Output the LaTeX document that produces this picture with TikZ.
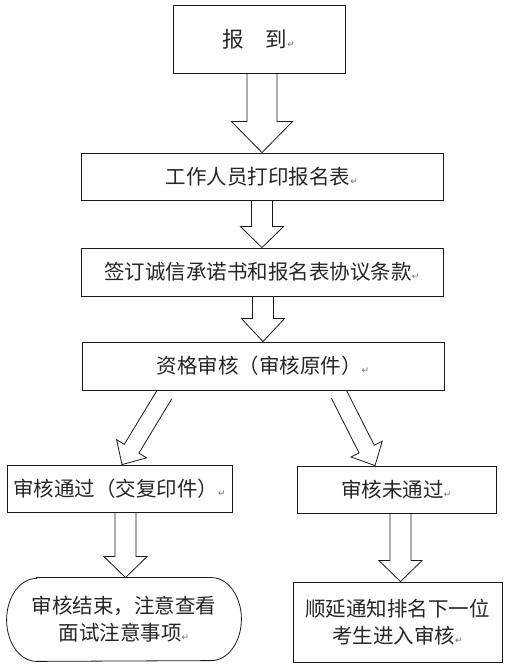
\documentclass[tikz,border=0pt]{standalone}
\usepackage{fontspec}
\usepackage{xcolor}
\usepackage{tikz}
\usetikzlibrary{positioning, calc}
\newfontfamily\cjk{Noto Sans CJK SC}
\newfontfamily\symfont{DejaVu Sans}
\definecolor{linegray}{RGB}{25,25,25}
\definecolor{markgray}{RGB}{110,110,110}
\newcommand{\pmark}{{\symfont\fontsize{9}{9}\selectfont\textcolor{markgray}{↵}}}
% hollow block arrow: start, end, shaft half width, head half width, head length
\newcommand{\fatarrow}[5]{%
  \coordinate (fa-h) at ($(#2)!#5!(#1)$);
  \draw[outline] ($(#1)!#3!90:(#2)$) -- ($(fa-h)!#3!-90:(#1)$) -- ($(fa-h)!#4!-90:(#1)$) -- (#2)
    -- ($(fa-h)!#4!90:(#1)$) -- ($(fa-h)!#3!90:(#1)$) -- ($(#1)!#3!-90:(#2)$);
}

\begin{document}
\begin{tikzpicture}[x=1pt, y=1pt,
    outline/.style={draw=linegray, line width=0.8pt, line join=miter},
    box/.style={outline, fill=white, inner sep=0pt, align=center, text=black!85,
      font=\cjk\fontsize{20.5}{27}\selectfont}]
    \useasboundingbox (0,0) rectangle (512,672);

    % Boxes
    \node[box, minimum width=172pt, minimum height=68pt, font=\cjk\fontsize{21.5}{27}\selectfont] (report) at (259,633) {报　到\pmark};
    \node[box, minimum width=362pt, minimum height=47pt] (print) at (262,495.5) {工作人员打印报名表\pmark};
    \node[box, minimum width=362pt, minimum height=48pt] (sign) at (262,400) {签订诚信承诺书和报名表协议条款\pmark};
    \node[box, minimum width=362pt, minimum height=48pt] (check) at (263,306) {资格审核（审核原件）\pmark};
    \node[box, minimum width=225pt, minimum height=47pt] (pass) at (119.5,183.5) {审核通过（交复印件）\pmark};
    \node[box, minimum width=199pt, minimum height=47pt] (fail) at (396.5,182.5) {审核未通过\pmark};
    \node[box, draw=none, fill=none, minimum width=234pt, minimum height=83pt] (finish) at (124,52.5) {审核结束，注意查看\\面试注意事项\pmark};
    \node[box, minimum width=209pt, minimum height=80pt] (next) at (397.5,50) {顺延通知排名下一位\\考生进入审核\pmark};

    % Rounded end box
    \draw[outline] ([xshift=30pt]finish.north west) -- ([xshift=-30pt]finish.north east)
      arc[start angle=90, end angle=-90, x radius=30pt, y radius=41.5pt]
      -- ([xshift=30pt]finish.south west)
      arc[start angle=270, end angle=90, x radius=30pt, y radius=41.5pt] -- cycle;

    % Block arrows
    \coordinate (a1) at (print.north |- report.south);
    \coordinate (a2) at (sign.north |- print.south);
    \coordinate (a3) at (check.north |- sign.south);
    \fatarrow{a1}{print.north}{15pt}{30.5pt}{31pt}
    \fatarrow{a2}{sign.north}{10.5pt}{21.5pt}{21pt}
    \fatarrow{a3}{check.north}{10.5pt}{21.5pt}{23pt}

    \coordinate (l0) at ([xshift=-98.5pt, yshift=-4pt]check.south);
    \coordinate (l1) at ([xshift=2.5pt]pass.north);
    \coordinate (r0) at ([xshift=76pt, yshift=-4pt]check.south);
    \coordinate (r1) at ([xshift=-21.5pt]fail.north);
    \fatarrow{l0}{l1}{8.5pt}{17.5pt}{18.5pt}
    \fatarrow{r0}{r1}{8.5pt}{17.5pt}{18.5pt}

    \coordinate (p0) at ([xshift=6pt]pass.south);
    \coordinate (p1) at (p0 |- finish.north);
    \coordinate (f0) at ([xshift=4pt]fail.south);
    \coordinate (f1) at (f0 |- next.north);
    \fatarrow{p0}{p1}{10.5pt}{21.5pt}{21pt}
    \fatarrow{f0}{f1}{10.5pt}{21.5pt}{21pt}
\end{tikzpicture}
\end{document}
